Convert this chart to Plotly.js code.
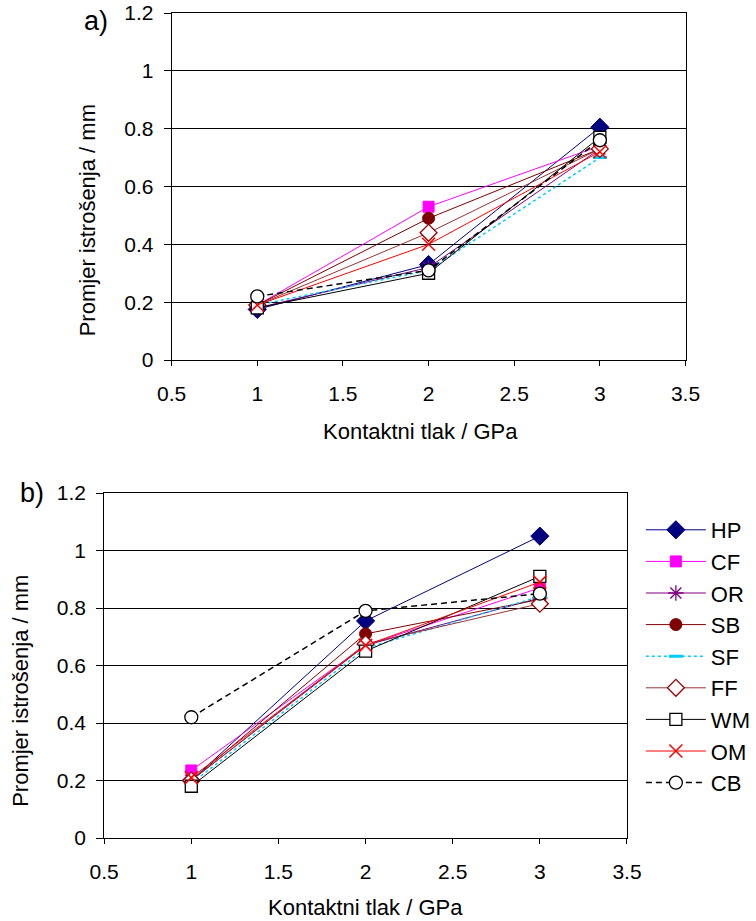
<!DOCTYPE html>
<html>
<head>
<meta charset="utf-8">
<script src="https://cdn.plot.ly/plotly-3.0.1.min.js"></script>
<style>html,body{margin:0;padding:0;background:#fff;}#chart{width:756px;height:921px;}</style>
</head>
<body>
<div id="chart"></div>
<script>
// Data
const pressure = [1, 2, 3];
const seriesNames = ["HP", "CF", "OR", "SB", "SF", "FF", "WM", "OM", "CB"];

// a) chart
const HP_a = [0.175, 0.33, 0.805];
const CF_a = [0.19, 0.53, 0.74];
const OR_a = [0.18, 0.32, 0.73];
const SB_a = [0.19, 0.49, 0.73];
const SF_a = [0.19, 0.31, 0.70];
const FF_a = [0.19, 0.44, 0.73];
const WM_a = [0.18, 0.30, 0.77];
const OM_a = [0.19, 0.40, 0.72];
const CB_a = [0.22, 0.31, 0.76];

// b) chart
const HP_b = [0.20, 0.755, 1.05];
const CF_b = [0.235, 0.67, 0.87];
const OR_b = [0.20, 0.67, 0.835];
const SB_b = [0.20, 0.71, 0.83];
const SF_b = [0.19, 0.66, 0.84];
const FF_b = [0.20, 0.675, 0.815];
const WM_b = [0.18, 0.65, 0.91];
const OM_b = [0.21, 0.67, 0.89];
const CB_b = [0.42, 0.79, 0.85];

const xTickVals = [0.5, 1, 1.5, 2, 2.5, 3, 3.5];
const xTickText = ["0.5", "1", "1.5", "2", "2.5", "3", "3.5"];
const yTickVals = [0, 0.2, 0.4, 0.6, 0.8, 1, 1.2];
const yTickText = ["0", "0.2", "0.4", "0.6", "0.8", "1", "1.2"];

const xTitle = "Kontaktni tlak / GPa";
const yTitle = "Promjer istrošenja / mm";

const valsA = [HP_a, CF_a, OR_a, SB_a, SF_a, FF_a, WM_a, OM_a, CB_a];
const valsB = [HP_b, CF_b, OR_b, SB_b, SF_b, FF_b, WM_b, OM_b, CB_b];

// Styles
const styles = {
  HP: {line: {color: "#000080", width: 1}, marker: {symbol: "diamond", size: 14, color: "#000080", line: {color: "#000080", width: 1}}},
  CF: {line: {color: "#FF00FF", width: 1}, marker: {symbol: "square", size: 11, color: "#FF00FF", line: {color: "#FF00FF", width: 1}}},
  OR: {line: {color: "#800080", width: 1}, marker: {symbol: "asterisk-open", size: 13, color: "#800080", line: {color: "#800080", width: 1.3}}},
  SB: {line: {color: "#800000", width: 1}, marker: {symbol: "circle", size: 12, color: "#800000", line: {color: "#800000", width: 1}}},
  SF: {line: {color: "#00CCFF", width: 1.5, dash: "dot"}, marker: {symbol: "line-ew-open", size: 10, color: "#00CCFF", line: {color: "#00CCFF", width: 3}}},
  FF: {line: {color: "#993333", width: 1}, marker: {symbol: "diamond", size: 13, color: "#FFFFFF", line: {color: "#990000", width: 1.3}}},
  WM: {line: {color: "#000000", width: 1}, marker: {symbol: "square", size: 12, color: "#FFFFFF", line: {color: "#000000", width: 1.3}}},
  OM: {line: {color: "#FF0000", width: 1}, marker: {symbol: "x-thin-open", size: 13, color: "#FF0000", line: {color: "#FF0000", width: 1.5}}},
  CB: {line: {color: "#000000", width: 1.5, dash: "6px,4px"}, marker: {symbol: "circle", size: 13, color: "#FFFFFF", line: {color: "#000000", width: 1.3}}}
};

const traces = [];
seriesNames.forEach((name, i) => {
  traces.push({
    x: pressure, y: valsA[i], type: "scatter", mode: "lines+markers", name: name,
    xaxis: "x", yaxis: "y", showlegend: false, legendgroup: name,
    line: styles[name].line, marker: styles[name].marker, hoverinfo: "x+y+name"
  });
});
seriesNames.forEach((name, i) => {
  traces.push({
    x: pressure, y: valsB[i], type: "scatter", mode: "lines+markers", name: name,
    xaxis: "x2", yaxis: "y2", showlegend: true, legendgroup: name,
    line: styles[name].line, marker: styles[name].marker, hoverinfo: "x+y+name"
  });
});

const W = 756, H = 921;
const px = v => v / W;
const py = v => 1 - v / H;

const fam = "'Liberation Sans', Arial, sans-serif";
const tickFont = {family: fam, size: 21, color: "#000"};
const titleFont = {family: fam, size: 22, color: "#000"};

function xAxis(l, r, anchor) {
  return {
    domain: [px(l), px(r)], anchor: anchor, range: [0.5, 3.5],
    tickmode: "array", tickvals: xTickVals, ticktext: xTickText,
    showgrid: false, zeroline: false, showline: true, mirror: true,
    linecolor: "#000", linewidth: 1, ticks: "outside", ticklen: 5, tickcolor: "#000",
    tickfont: tickFont, ticklabelstandoff: 10, fixedrange: true
  };
}
function yAxis(t, b, anchor) {
  return {
    domain: [py(b), py(t)], anchor: anchor, range: [0, 1.2],
    tickmode: "array", tickvals: yTickVals, ticktext: yTickText,
    showgrid: true, gridcolor: "#000", gridwidth: 1, zeroline: false,
    showline: true, mirror: true, linecolor: "#000", linewidth: 1,
    ticks: "outside", ticklen: 7, tickcolor: "#000",
    tickfont: tickFont, ticklabelstandoff: 6, fixedrange: true
  };
}

const layout = {
  width: W, height: H,
  margin: {l: 0, r: 0, t: 0, b: 0},
  paper_bgcolor: "#fff", plot_bgcolor: "#fff",
  font: titleFont,
  xaxis: xAxis(173, 691, "y"),
  yaxis: yAxis(13, 360, "x"),
  xaxis2: xAxis(105, 632, "y2"),
  yaxis2: yAxis(493, 838, "x2"),
  legend: {
    x: px(646), y: py(509), xanchor: "left", yanchor: "top",
    font: {family: fam, size: 22, color: "#000"},
    bgcolor: "rgba(0,0,0,0)", borderwidth: 0,
    tracegroupgap: 8, itemwidth: 60, traceorder: "normal"
  },
  annotations: [
    {text: xTitle, x: px(424), y: py(431), xref: "paper", yref: "paper", showarrow: false, font: titleFont, xanchor: "center", yanchor: "middle"},
    {text: yTitle, x: px(88), y: py(220), xref: "paper", yref: "paper", showarrow: false, font: titleFont, textangle: -90, xanchor: "center", yanchor: "middle"},
    {text: "a)", x: px(97), y: py(21), xref: "paper", yref: "paper", showarrow: false, font: {family: fam, size: 27, color: "#000"}, xanchor: "center", yanchor: "middle"},
    {text: xTitle, x: px(368), y: py(907), xref: "paper", yref: "paper", showarrow: false, font: titleFont, xanchor: "center", yanchor: "middle"},
    {text: yTitle, x: px(20), y: py(691), xref: "paper", yref: "paper", showarrow: false, font: titleFont, textangle: -90, xanchor: "center", yanchor: "middle"},
    {text: "b)", x: px(32), y: py(493), xref: "paper", yref: "paper", showarrow: false, font: {family: fam, size: 27, color: "#000"}, xanchor: "center", yanchor: "middle"}
  ]
};

Plotly.newPlot("chart", traces, layout, {displayModeBar: false, staticPlot: true});
</script>
</body>
</html>
